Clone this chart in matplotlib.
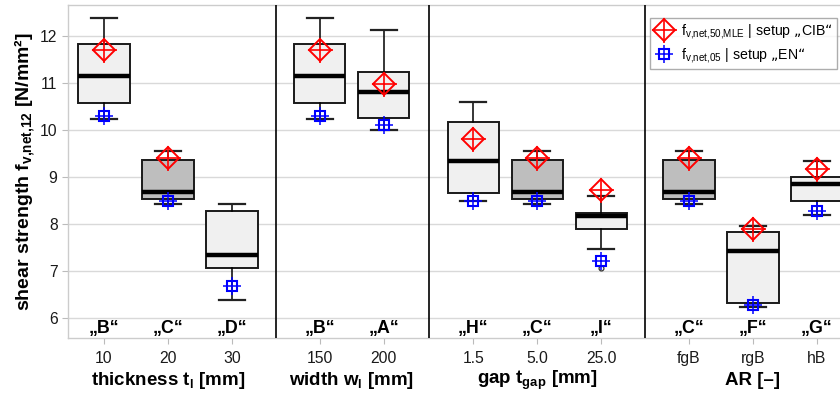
import matplotlib
matplotlib.use("Agg")
import matplotlib.pyplot as plt
from matplotlib.lines import Line2D
from matplotlib.legend_handler import HandlerTuple

plt.rcParams["font.family"] = ["Liberation Sans", "DejaVu Sans"]
plt.rcParams["mathtext.default"] = "regular"

# data
tick_labels = ["10", "20", "30", "150", "200", "1.5", "5.0", "25.0", "fgB", "rgB", "hB"]
series_names = ["B", "C", "D", "B", "A", "H", "C", "I", "C", "F", "G"]
whis_lo = [10.24, 8.42, 6.39, 10.24, 10.0, 8.5, 8.42, 7.47, 8.42, 6.24, 8.2]
q1 = [10.58, 8.53, 7.06, 10.58, 10.26, 8.67, 8.53, 7.89, 8.53, 6.32, 8.5]
med = [11.15, 8.68, 7.34, 11.15, 10.8, 9.33, 8.68, 8.17, 8.68, 7.42, 8.86]
q3 = [11.83, 9.36, 8.27, 11.83, 11.24, 10.16, 9.36, 8.23, 9.36, 7.83, 9.0]
whis_hi = [12.38, 9.55, 8.42, 12.38, 12.13, 10.6, 9.55, 8.59, 9.55, 7.97, 9.35]
outliers = [[], [], [], [], [], [], [], [7.06], [], [], []]
f_cib = [11.7, 9.4, None, 11.7, 10.98, 9.8, 9.4, 8.72, 9.4, 7.89, 9.18]
f_en = [10.3, 8.49, 6.68, 10.3, 10.1, 8.5, 8.5, 7.21, 8.5, 6.28, 8.27]

group_titles = ["thickness t$_l$ [mm]", "width w$_l$ [mm]", "gap t$_{gap}$ [mm]", "AR [–]"]

# layout
positions = [1, 2, 3, 4.37, 5.37, 6.77, 7.77, 8.77, 10.14, 11.14, 12.14]
separators = [3.685, 6.07, 9.455]
group_centers = [2, 4.87, 7.77, 11.14]


def main():
    fig = plt.figure(figsize=(8.4, 3.94), dpi=100)
    ax = fig.add_axes([0.081, 0.142, 0.919, 0.845])

    stats = []
    for i in range(len(med)):
        stats.append({
            "whislo": whis_lo[i], "q1": q1[i], "med": med[i],
            "q3": q3[i], "whishi": whis_hi[i], "fliers": outliers[i],
        })

    bp = ax.bxp(stats, positions=positions, widths=0.8, patch_artist=True,
                showfliers=True,
                boxprops=dict(edgecolor="#1a1a1a", linewidth=1.4),
                medianprops=dict(color="black", linewidth=3.2, solid_capstyle="butt"),
                whiskerprops=dict(color="black", linewidth=1.1),
                capprops=dict(color="#222222", linewidth=1.6),
                capwidths=0.4,
                flierprops=dict(marker="o", markersize=3.5, markerfacecolor="none",
                                markeredgecolor="#333333", markeredgewidth=0.9))
    for box, name in zip(bp["boxes"], series_names):
        box.set_facecolor("#bebebe" if name == "C" else "#f0f0f0")
        box.set_zorder(2)

    # CIB means and EN values
    for x, v in zip(positions, f_cib):
        if v is None:
            continue
        ax.plot(x, v, marker="D", ms=11.5, mfc="none", mec="red", mew=1.4, zorder=5)
        ax.plot(x, v, marker="+", ms=18, mec="red", mew=1.2, zorder=5)
    for x, v in zip(positions, f_en):
        ax.plot(x, v, marker="s", ms=7, mfc="none", mec="blue", mew=1.5, zorder=5)
        ax.plot(x, v, marker="+", ms=12.5, mec="blue", mew=1.1, zorder=5)

    for x, name in zip(positions, series_names):
        ax.text(x, 0.03, "„" + name + "“", transform=ax.get_xaxis_transform(),
                ha="center", va="center", fontsize=12.8, fontweight="bold")

    for s in separators:
        ax.axvline(s, color="black", linewidth=1.2, zorder=3)

    for x, t in zip(group_centers, group_titles):
        ax.text(x, -0.128, t, transform=ax.get_xaxis_transform(),
                ha="center", va="center", fontsize=13.5, fontweight="bold")

    ax.set_xlim(0.4375, 12.5)
    ax.set_ylim(5.58, 12.65)
    ax.set_yticks([6, 7, 8, 9, 10, 11, 12])
    ax.set_xticks(positions)
    ax.set_xticklabels(tick_labels)
    ax.tick_params(axis="both", labelsize=11.3, colors="#bbbbbb", labelcolor="#1a1a1a",
                   length=4, width=0.8)
    ax.tick_params(axis="x", pad=5)
    ax.grid(axis="y", color="#d9d9d9", linewidth=1.0, zorder=0)
    ax.set_axisbelow(True)
    for side in ["left", "bottom", "top"]:
        ax.spines[side].set_color("#cccccc")
        ax.spines[side].set_linewidth(1.0)
    ax.spines["right"].set_visible(False)

    ax.set_ylabel("shear strength f$_{v{,}net{,}12}$ [N/mm²]", fontsize=14,
                  fontweight="bold", labelpad=2)

    h_cib = (Line2D([], [], marker="D", ms=11.5, mfc="none", mec="red", mew=1.4, ls="none"),
             Line2D([], [], marker="+", ms=18, mec="red", mew=1.2, ls="none"))
    h_en = (Line2D([], [], marker="s", ms=7, mfc="none", mec="blue", mew=1.5, ls="none"),
            Line2D([], [], marker="+", ms=12.5, mec="blue", mew=1.1, ls="none"))
    leg = ax.legend([h_cib, h_en],
                    ["f$_{v{,}net{,}50{,}MLE}$ | setup „CIB“", "f$_{v{,}net{,}05}$ | setup „EN“"],
                    handler_map={tuple: HandlerTuple(ndivide=1)},
                    loc="upper right", bbox_to_anchor=(1.0, 0.97), fontsize=10.2,
                    frameon=True, fancybox=False, edgecolor="#999999",
                    handlelength=1.4, handletextpad=0.5, borderpad=0.3,
                    labelspacing=0.35, borderaxespad=0.2)
    leg.get_frame().set_linewidth(1.0)

    fig.savefig("out.png", dpi=100)


if __name__ == "__main__":
    main()
